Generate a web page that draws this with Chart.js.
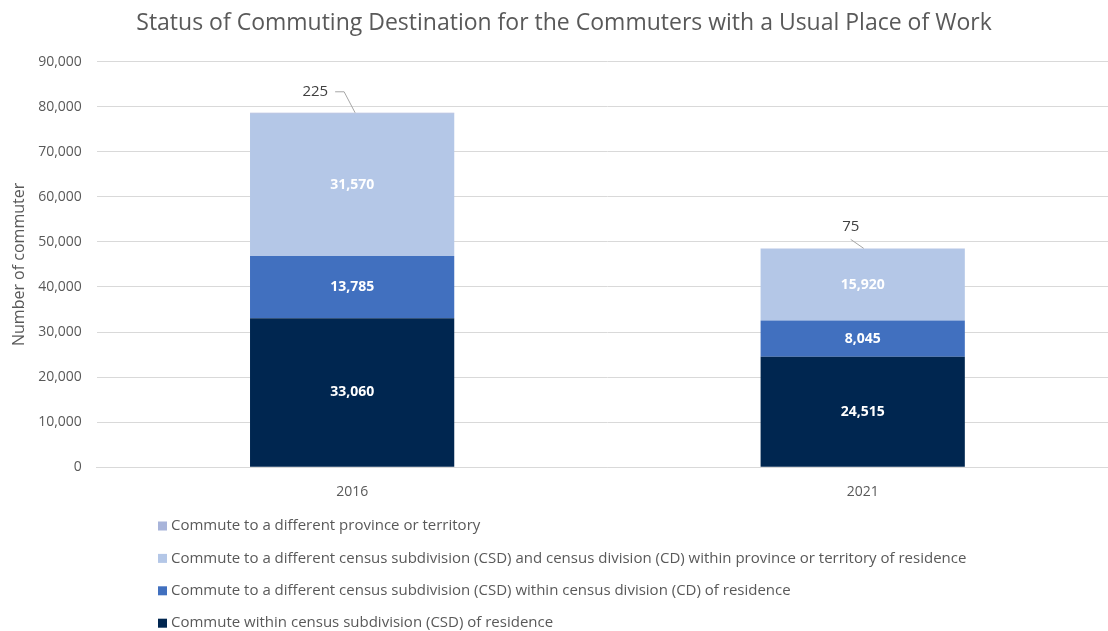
<!DOCTYPE html>
<html>
<head>
<meta charset="utf-8">
<title>Commuting destination</title>
<script src="https://cdn.jsdelivr.net/npm/chart.js@4.4.1/dist/chart.umd.min.js"></script>
<style>
  html, body { margin: 0; padding: 0; background: #fff; overflow: hidden; }
  #wrap { width: 1118px; height: 631px; position: relative; }
</style>
</head>
<body>
<div id="wrap"><canvas id="myChart"></canvas></div>
<script>
const years = ['2016', '2021']

// stacked from the bottom up
const withinCSD = [33060, 24515]
const otherCSDsameCD = [13785, 8045]
const otherCSDandCD = [31570, 15920]
const otherProvince = [225, 75]

const seriesNames = [
    'Commute within census subdivision (CSD) of residence',
    'Commute to a different census subdivision (CSD) within census division (CD) of residence',
    'Commute to a different census subdivision (CSD) and census division (CD) within province or territory of residence',
    'Commute to a different province or territory'
]
const seriesColors = ['#002650', '#4170BF', '#B4C7E7', '#A8B4DA']

const fmt = v => v.toLocaleString('en-US')
const FONT = '"Open Sans", "Noto Sans", sans-serif'

// value labels: white inside the big segments, callout with a leader line for the tiny top one
const valueLabels = {
    id: 'valueLabels',
    afterDatasetsDraw(chart) {
        const ctx = chart.ctx
        ctx.save()
        chart.data.datasets.forEach((ds, di) => {
            const meta = chart.getDatasetMeta(di)
            meta.data.forEach((bar, i) => {
                const v = ds.data[i]
                if (v >= 1000) {
                    ctx.font = 'bold 14px ' + FONT
                    ctx.fillStyle = '#ffffff'
                    ctx.textAlign = 'center'
                    ctx.textBaseline = 'middle'
                    ctx.fillText(fmt(v), bar.x, (bar.y + bar.base) / 2)
                } else {
                    const top = bar.y
                    ctx.strokeStyle = '#a6a6a6'
                    ctx.lineWidth = 1
                    ctx.font = '15px ' + FONT
                    ctx.fillStyle = '#404040'
                    ctx.textBaseline = 'middle'
                    ctx.beginPath()
                    if (i === 0) {
                        ctx.moveTo(bar.x - 17, top - 21)
                        ctx.lineTo(bar.x - 8, top - 21)
                        ctx.lineTo(bar.x + 3, top)
                        ctx.stroke()
                        ctx.textAlign = 'right'
                        ctx.fillText(fmt(v), bar.x - 24, top - 21)
                    } else {
                        ctx.moveTo(bar.x - 12, top - 9)
                        ctx.lineTo(bar.x + 1, top)
                        ctx.stroke()
                        ctx.textAlign = 'center'
                        ctx.fillText(fmt(v), bar.x - 12, top - 22)
                    }
                }
            })
        })
        ctx.restore()
    }
}

// legend listed one per line under the axis, top series first
const stackLegend = {
    id: 'stackLegend',
    afterDraw(chart) {
        const ctx = chart.ctx
        ctx.save()
        ctx.font = '15px ' + FONT
        ctx.textBaseline = 'middle'
        ctx.textAlign = 'left'
        const n = chart.data.datasets.length
        for (let k = 0; k < n; k++) {
            const ds = chart.data.datasets[n - 1 - k]
            const y = 526 + k * 32.4
            ctx.fillStyle = ds.backgroundColor
            ctx.fillRect(158, y - 4.5, 9, 9)
            ctx.fillStyle = '#595959'
            ctx.fillText(ds.label, 171, y)
        }
        ctx.restore()
    }
}

const seriesValues = [withinCSD, otherCSDsameCD, otherCSDandCD, otherProvince]

const data = {
    labels: years,
    datasets: seriesValues.map((vals, k) => ({
        label: seriesNames[k],
        data: vals,
        backgroundColor: seriesColors[k],
        borderWidth: 0,
        barPercentage: 0.8,
        categoryPercentage: 0.5
    }))
}

const config = {
    type: 'bar',
    data: data,
    options: {
        responsive: true,
        maintainAspectRatio: false,
        animation: false,
        layout: { padding: { top: 0, bottom: 115, left: 10, right: 0 } },
        plugins: {
            legend: { display: false },
            tooltip: { enabled: false },
            title: {
                display: true,
                text: 'Status of Commuting Destination for the Commuters with a Usual Place of Work',
                color: '#595959',
                font: { family: FONT, size: 23, weight: 'normal' },
                padding: { top: 10, bottom: 24 }
            }
        },
        scales: {
            x: {
                stacked: true,
                grid: { display: false, drawTicks: false },
                border: { color: '#d9d9d9' },
                ticks: { color: '#595959', font: { family: FONT, size: 14 }, padding: 16 }
            },
            y: {
                stacked: true,
                min: 0,
                max: 90000,
                grid: { color: '#d9d9d9', drawTicks: false },
                border: { display: false },
                ticks: {
                    stepSize: 10000,
                    color: '#595959',
                    font: { family: FONT, size: 14 },
                    padding: 15,
                    callback: v => fmt(v)
                },
                title: {
                    display: true,
                    text: 'Number of commuter',
                    color: '#595959',
                    font: { family: FONT, size: 16 },
                    padding: { top: 0, bottom: -6 }
                }
            }
        }
    },
    plugins: [valueLabels, stackLegend]
}

var chart

window.addEventListener('DOMContentLoaded', () => {
    chart = new Chart(document.getElementById('myChart'), config)
})
</script>
</body>
</html>
